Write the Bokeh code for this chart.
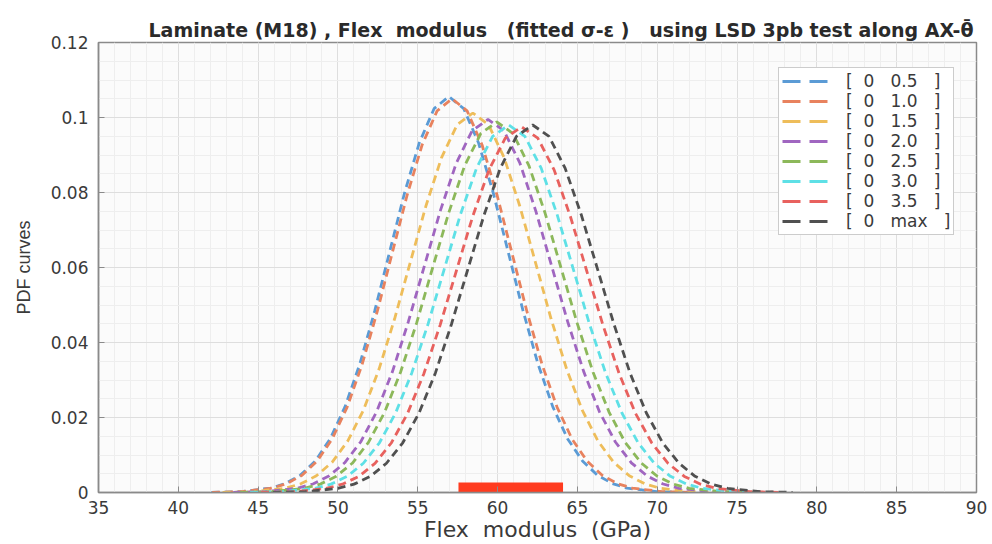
from bokeh.plotting import figure
from bokeh.models import (SingleIntervalTicker, CustomJSTickFormatter, Range1d, Title,
                          Legend, LegendItem)
from bokeh.embed import file_html
from bokeh.resources import INLINE

NB = "\u00a0"

# ---- data (PDF curves, GPa vs density) ----
labels = ["[  0   0.5   ]", "[  0   1.0   ]", "[  0   1.5   ]", "[  0   2.0   ]",
          "[  0   2.5   ]", "[  0   3.0   ]", "[  0   3.5   ]", "[  0   max   ]"]
colors = ["#5b9bd5", "#e8825e", "#eebd5a", "#a066c0",
          "#8cb85a", "#5ee0e6", "#e8615e", "#505050"]

x_05 = [42.07, 43.93, 45.79, 46.72, 47.65, 48.58, 49.51, 50.44, 51.37, 52.30, 53.23, 54.16, 55.09, 56.02, 56.95,
        57.88, 58.81, 59.74, 60.67, 61.60, 62.53, 63.46, 64.39, 65.32, 66.25, 67.18, 68.11, 69.97, 71.83]
y_05 = [0.00004, 0.00023, 0.00117, 0.00241, 0.00464, 0.00840, 0.01429, 0.02284, 0.03428, 0.04835, 0.06405, 0.07971, 0.09319, 0.10235, 0.1056,
        0.10235, 0.09319, 0.07971, 0.06405, 0.04835, 0.03428, 0.02284, 0.01429, 0.00840, 0.00464, 0.00241, 0.00117, 0.00023, 0.00004]

x_10 = [42.11, 43.99, 45.87, 46.81, 47.75, 48.69, 49.63, 50.57, 51.51, 52.45, 53.39, 54.33, 55.27, 56.21, 57.15,
        58.09, 59.03, 59.97, 60.91, 61.85, 62.79, 63.73, 64.67, 65.61, 66.55, 67.49, 68.43, 70.31, 72.19]
y_10 = [0.00004, 0.00023, 0.00117, 0.00239, 0.00461, 0.00835, 0.01421, 0.02271, 0.03409, 0.04807, 0.06369, 0.07926, 0.09266, 0.10177, 0.1050,
        0.10177, 0.09266, 0.07926, 0.06369, 0.04807, 0.03409, 0.02271, 0.01421, 0.00835, 0.00461, 0.00239, 0.00117, 0.00023, 0.00004]

x_15 = [42.77, 44.73, 46.69, 47.67, 48.65, 49.63, 50.61, 51.59, 52.57, 53.55, 54.53, 55.51, 56.49, 57.47, 58.45,
        59.43, 60.41, 61.39, 62.37, 63.35, 64.33, 65.31, 66.29, 67.27, 68.25, 69.23, 70.21, 72.17, 74.13]
y_15 = [0.00003, 0.00022, 0.00112, 0.00231, 0.00445, 0.00805, 0.01370, 0.02189, 0.03285, 0.04633, 0.06138, 0.07639, 0.08931, 0.09809, 0.1012,
        0.09809, 0.08931, 0.07639, 0.06138, 0.04633, 0.03285, 0.02189, 0.01370, 0.00805, 0.00445, 0.00231, 0.00112, 0.00022, 0.00003]

x_20 = [43.44, 45.44, 47.43, 48.43, 49.43, 50.42, 51.42, 52.42, 53.42, 54.41, 55.41, 56.41, 57.41, 58.40, 59.40,
        60.40, 61.40, 62.39, 63.39, 64.39, 65.39, 66.38, 67.38, 68.38, 69.38, 70.37, 71.37, 73.37, 75.36]
y_20 = [0.00003, 0.00022, 0.00111, 0.00227, 0.00437, 0.00792, 0.01347, 0.02152, 0.03230, 0.04555, 0.06035, 0.07511, 0.08781, 0.09644, 0.0995,
        0.09644, 0.08781, 0.07511, 0.06035, 0.04555, 0.03230, 0.02152, 0.01347, 0.00792, 0.00437, 0.00227, 0.00111, 0.00022, 0.00003]

x_25 = [43.87, 45.88, 47.89, 48.90, 49.90, 50.91, 51.91, 52.92, 53.92, 54.93, 55.93, 56.94, 57.94, 58.95, 59.95,
        60.96, 61.96, 62.97, 63.97, 64.98, 65.98, 66.99, 67.99, 69.00, 70.00, 71.01, 72.01, 74.02, 76.03]
y_25 = [0.00003, 0.00022, 0.00110, 0.00225, 0.00434, 0.00786, 0.01337, 0.02137, 0.03208, 0.04523, 0.05993, 0.07458, 0.08719, 0.09576, 0.0988,
        0.09576, 0.08719, 0.07458, 0.05993, 0.04523, 0.03208, 0.02137, 0.01337, 0.00786, 0.00434, 0.00225, 0.00110, 0.00022, 0.00003]

x_30 = [44.50, 46.52, 48.55, 49.56, 50.58, 51.59, 52.60, 53.61, 54.62, 55.64, 56.65, 57.66, 58.68, 59.69, 60.70,
        61.71, 62.73, 63.74, 64.75, 65.76, 66.77, 67.79, 68.80, 69.81, 70.83, 71.84, 72.85, 74.88, 76.90]
y_30 = [0.00003, 0.00021, 0.00109, 0.00223, 0.00431, 0.00780, 0.01326, 0.02119, 0.03182, 0.04487, 0.05944, 0.07397, 0.08649, 0.09498, 0.0980,
        0.09498, 0.08649, 0.07397, 0.05944, 0.04487, 0.03182, 0.02119, 0.01326, 0.00780, 0.00431, 0.00223, 0.00109, 0.00021, 0.00003]

x_35 = [45.18, 47.22, 49.26, 50.28, 51.30, 52.32, 53.34, 54.36, 55.38, 56.40, 57.42, 58.44, 59.46, 60.48, 61.50,
        62.52, 63.54, 64.56, 65.58, 66.60, 67.62, 68.64, 69.66, 70.68, 71.70, 72.72, 73.74, 75.78, 77.82]
y_35 = [0.00003, 0.00021, 0.00108, 0.00222, 0.00428, 0.00776, 0.01320, 0.02109, 0.03165, 0.04464, 0.05914, 0.07360, 0.08604, 0.09450, 0.0975,
        0.09450, 0.08604, 0.07360, 0.05914, 0.04464, 0.03165, 0.02109, 0.01320, 0.00776, 0.00428, 0.00222, 0.00108, 0.00021, 0.00003]

x_max = [45.92, 47.96, 49.99, 51.01, 52.03, 53.04, 54.06, 55.08, 56.10, 57.11, 58.13, 59.15, 60.17, 61.18, 62.20,
         63.22, 64.23, 65.25, 66.27, 67.29, 68.30, 69.32, 70.34, 71.36, 72.37, 73.39, 74.41, 76.45, 78.48]
y_max = [0.00003, 0.00021, 0.00109, 0.00223, 0.00431, 0.00780, 0.01326, 0.02119, 0.03182, 0.04487, 0.05944, 0.07397, 0.08649, 0.09498, 0.0980,
         0.09498, 0.08649, 0.07397, 0.05944, 0.04487, 0.03182, 0.02119, 0.01326, 0.00780, 0.00431, 0.00223, 0.00109, 0.00021, 0.00003]

xs_all = [x_05, x_10, x_15, x_20, x_25, x_30, x_35, x_max]
ys_all = [y_05, y_10, y_15, y_20, y_25, y_30, y_35, y_max]

bar_x = [57.55, 64.1]      # red interval bar on the baseline (GPa)
bar_y = [-0.002, 0.0027]

x_limits = [35, 90]
y_limits = [0, 0.12]

FONT = "DejaVu Sans"
TXT = "#3a3a3a"
AX = "#8a8a8a"

p = figure(width=992, height=544, output_backend="svg", toolbar_location=None,
           x_range=Range1d(*x_limits), y_range=Range1d(*y_limits),
           min_border_left=98, min_border_right=16, min_border_top=42, min_border_bottom=52,
           background_fill_color="#fbfbfb", border_fill_color="white")
# range used only so the legend-sample copies of the curves stay out of view
p.extra_y_ranges = {"legend_only": Range1d(10, 11)}

p.title = Title(text="Laminate (M18) , Flex" + NB*2 + "modulus" + NB*3 + "(fitted σ-ε )" + NB*3 +
                "using LSD 3pb test along AX-θ\u0304",
                text_font=FONT, text_font_size="19px", text_font_style="bold",
                text_color="#2a2a2a", align="left", offset=50, standoff=3)

items = []
for xs, ys, c, lab in zip(xs_all, ys_all, colors, labels):
    p.line(xs, ys, line_color=c, line_width=2.8, line_dash="8 5")
    proxy = p.line(xs, ys, line_color=c, line_width=2.8, line_dash="18 9",
                   y_range_name="legend_only")
    items.append(LegendItem(label=lab.replace(" ", NB), renderers=[proxy]))

p.quad(left=[bar_x[0]], right=[bar_x[1]], bottom=[bar_y[0]], top=[bar_y[1]],
       fill_color="#ff3b1f", line_color=None)

# axes
p.xaxis.ticker = SingleIntervalTicker(interval=5, num_minor_ticks=5)
p.yaxis.ticker = SingleIntervalTicker(interval=0.02, num_minor_ticks=4)
p.yaxis.formatter = CustomJSTickFormatter(
    code="var s = tick.toFixed(2); s = s.replace(/0+$/, ''); return s.replace(/\\.$/, '');")

for ax in (p.xaxis[0], p.yaxis[0]):
    ax.axis_line_color = AX
    ax.axis_line_width = 1.5
    ax.major_tick_line_color = AX
    ax.major_tick_in = 6
    ax.major_tick_out = 0
    ax.minor_tick_line_color = None
    ax.major_label_text_font = FONT
    ax.major_label_text_font_size = "17px"
    ax.major_label_text_color = TXT
    ax.axis_label_text_font = FONT
    ax.axis_label_text_font_style = "normal"
    ax.axis_label_text_color = TXT

p.xaxis.axis_label = "Flex" + NB*2 + "modulus" + NB*2 + "(GPa)"
p.xaxis.axis_label_text_font_size = "22px"
p.xaxis.major_label_standoff = 4
p.xaxis.axis_label_standoff = 0
p.yaxis.axis_label = "PDF curves"
p.yaxis.axis_label_text_font = "Liberation Sans"
p.yaxis.axis_label_text_font_size = "18px"
p.yaxis.major_label_standoff = 6
p.yaxis.axis_label_standoff = 14

p.outline_line_color = AX
p.outline_line_width = 1.5

# grid
p.xgrid.grid_line_color = "#dedede"
p.ygrid.grid_line_color = "#dedede"
p.xgrid.minor_grid_line_color = "#eeeeee"
p.ygrid.minor_grid_line_color = "#eeeeee"

# legend
lg = Legend(items=items, location=(680, 257), margin=0, padding=3, spacing=0,
            glyph_width=48, glyph_height=20, label_height=20, label_standoff=16,
            label_text_font=FONT, label_text_font_size="17px", label_text_color=TXT,
            border_line_color="#9a9a9a", border_line_width=1.5,
            background_fill_color="white", background_fill_alpha=1.0)
p.add_layout(lg, "center")

open("out.html", "w").write(file_html(p, INLINE))
